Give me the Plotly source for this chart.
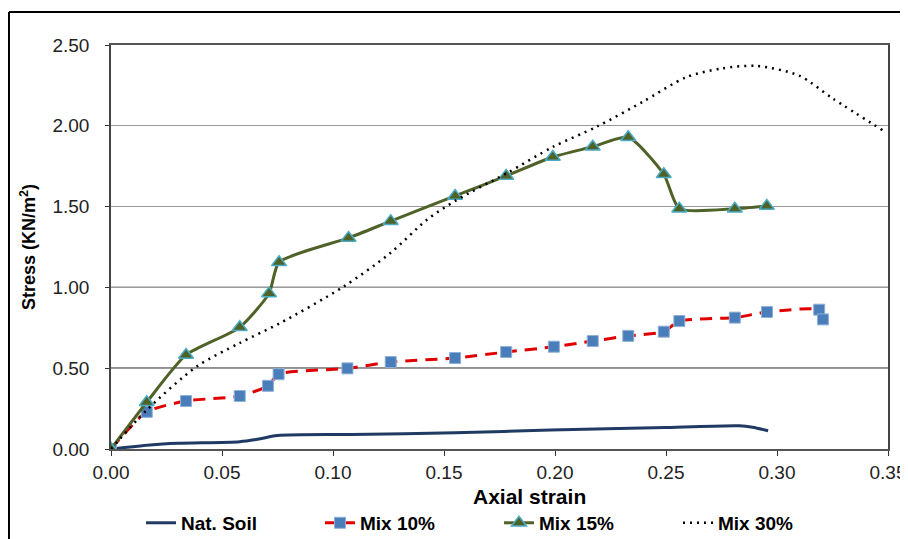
import plotly.graph_objects as go

# ---- data ----
nat_x = [0, 0.0176, 0.030, 0.058, 0.066, 0.075, 0.108, 0.155, 0.198, 0.250, 0.283, 0.289, 0.296]
nat_y = [0, 0.025, 0.035, 0.045, 0.060, 0.083, 0.090, 0.100, 0.118, 0.133, 0.144, 0.135, 0.113]

mix10_x = [0, 0.0161, 0.0338, 0.058, 0.0707, 0.0755, 0.1065, 0.126, 0.155, 0.178, 0.1995,
           0.217, 0.233, 0.249, 0.256, 0.281, 0.2955, 0.319, 0.3207]
mix10_y = [0, 0.23, 0.297, 0.328, 0.391, 0.463, 0.499, 0.538, 0.563, 0.600, 0.633,
           0.668, 0.700, 0.726, 0.792, 0.813, 0.848, 0.862, 0.802]

mix15_x = [0, 0.0161, 0.0338, 0.058, 0.0712, 0.0757, 0.107, 0.126, 0.155, 0.178, 0.199,
           0.217, 0.233, 0.249, 0.256, 0.281, 0.2954]
mix15_y = [0, 0.289, 0.582, 0.753, 0.963, 1.155, 1.306, 1.410, 1.566, 1.690, 1.807,
           1.870, 1.929, 1.700, 1.487, 1.487, 1.504]

mix30_x = [0, 0.016, 0.0386, 0.058, 0.076, 0.1047, 0.1257, 0.1422, 0.1557, 0.1782, 0.1993,
           0.2189, 0.2396, 0.259, 0.275, 0.291, 0.310, 0.325, 0.349]
mix30_y = [0, 0.24, 0.51, 0.656, 0.778, 1.004, 1.211, 1.417, 1.541, 1.706, 1.871,
           1.995, 2.149, 2.300, 2.355, 2.370, 2.310, 2.170, 1.960]

y_ticks = [0, 0.5, 1.0, 1.5, 2.0, 2.5]
x_ticks = [0, 0.05, 0.10, 0.15, 0.20, 0.25, 0.30, 0.35]
dark_grid = [0.5, 1.0]

FONT = "Liberation Sans, Arial, sans-serif"

fig = go.Figure()
fig.add_trace(go.Scatter(x=nat_x, y=nat_y, name="Nat. Soil", mode="lines",
                         line=dict(color="#1F3B63", width=3, shape="spline", smoothing=0.8)))
fig.add_trace(go.Scatter(x=mix10_x, y=mix10_y, name="Mix 10%", mode="lines+markers",
                         line=dict(color="#E00000", width=3, dash="12px,8px", shape="spline", smoothing=0.6),
                         marker=dict(symbol="square", size=11, color="#4A7EBB",
                                     line=dict(color="#8FB0D8", width=1))))
fig.add_trace(go.Scatter(x=mix15_x, y=mix15_y, name="Mix 15%", mode="lines+markers",
                         line=dict(color="#4F6228", width=3, shape="spline", smoothing=0.6),
                         marker=dict(symbol="triangle-up", size=13, color="#4F6228",
                                     line=dict(color="#4BACC6", width=1.5))))
fig.add_trace(go.Scatter(x=mix30_x, y=mix30_y, name="Mix 30%", mode="lines",
                         line=dict(color="#000000", width=2.5, dash="2px,5px", shape="spline", smoothing=0.8)))

shapes = []
for g in dark_grid:
    shapes.append(dict(type="line", xref="paper", x0=0, x1=1, yref="y", y0=g, y1=g,
                       line=dict(color="#222222", width=1.2), layer="below"))
# outer chart frame
shapes.append(dict(type="line", xref="paper", yref="paper", x0=-0.1313, x1=1.1, y0=1.0817, y1=1.0817,
                   line=dict(color="black", width=2)))
shapes.append(dict(type="line", xref="paper", yref="paper", x0=-0.1313, x1=-0.1313, y0=1.0817, y1=-0.3,
                   line=dict(color="black", width=2)))

fig.update_layout(
    width=900, height=531,
    margin=dict(l=103, r=20, t=37, b=90, autoexpand=False),
    paper_bgcolor="white", plot_bgcolor="white",
    font=dict(family=FONT, color="black"),
    shapes=shapes,
    showlegend=True,
    legend=dict(orientation="h", x=0.0386, xanchor="left", y=-0.183, yanchor="middle",
                font=dict(size=19, family=FONT, weight="bold"),
                entrywidth=134, tracegroupgap=0, bgcolor="rgba(0,0,0,0)"),
    annotations=[dict(text="Axial strain", xref="paper", yref="paper", x=0.538, y=-0.118,
                      xanchor="center", yanchor="middle", showarrow=False,
                      font=dict(size=21, family=FONT, weight="bold"))],
    xaxis=dict(range=[0, 0.35], tickvals=x_ticks, tickformat=".2f", automargin=False,
               showgrid=False, zeroline=False,
               showline=True, linecolor="#555555", linewidth=1.5, mirror=True,
               ticks="outside", ticklen=5, tickcolor="#333333",
               tickfont=dict(size=19, color="#222222")),
    yaxis=dict(range=[0, 2.5], tickvals=y_ticks, tickformat=".2f", automargin=False,
               showgrid=True, gridcolor="#999999", gridwidth=1.2, zeroline=False,
               showline=True, linecolor="#444444", linewidth=1.5, mirror=True,
               ticks="outside", ticklen=4, tickcolor="#333333",
               tickfont=dict(size=19, color="#222222"), ticklabelstandoff=12,
               title=dict(text="Stress (KN/m<sup>2</sup>)", font=dict(size=18, weight="bold"), standoff=12)),
)

fig.write_html("out.html")
